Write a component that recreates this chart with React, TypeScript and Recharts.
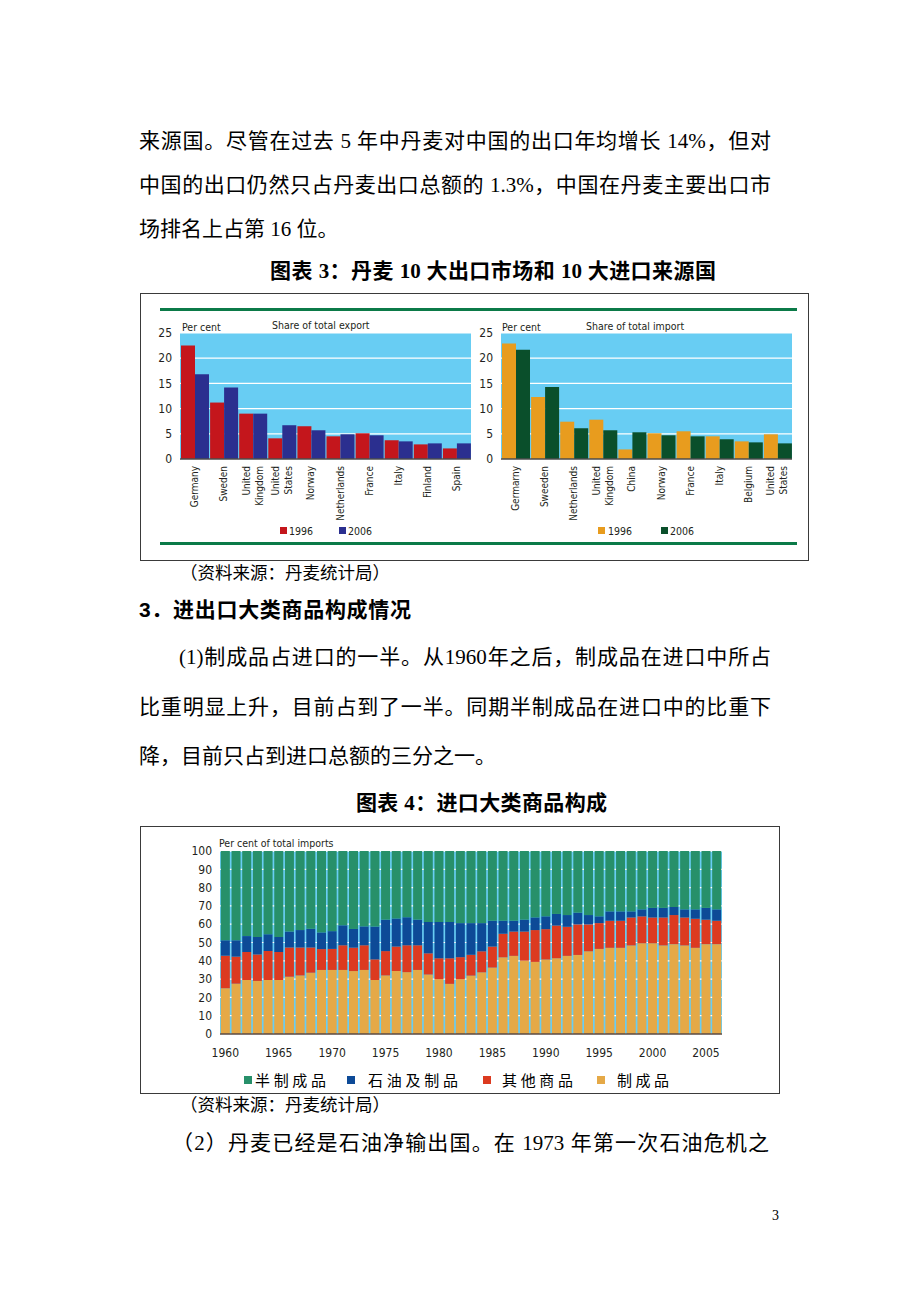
import React from 'react';
import { BarChart, Bar, XAxis, YAxis, CartesianGrid } from 'recharts';

// chart 3: top 10 export markets / import sources (per cent)
const exportCountries = ['Germany', 'Sweden', 'United\nKingdom', 'United\nStates', 'Norway', 'Netherlands', 'France', 'Italy', 'Finland', 'Spain'];
const export1996 = [22.5, 11.2, 9.0, 4.1, 6.5, 4.5, 5.1, 3.7, 2.9, 2.1];
const export2006 = [16.8, 14.2, 9.0, 6.7, 5.7, 4.9, 4.7, 3.5, 3.1, 3.1];

const importCountries = ['Germarny', 'Sweeden', 'Netherlands', 'United\nKingdom', 'China', 'Norway', 'France', 'Italy', 'Belgium', 'United\nStates'];
const import1996 = [22.9, 12.3, 7.4, 7.8, 1.9, 5.1, 5.5, 4.5, 3.5, 4.9];
const import2006 = [21.7, 14.3, 6.1, 5.7, 5.3, 4.7, 4.5, 3.9, 3.3, 3.1];

const shareTicks = [0, 5, 10, 15, 20, 25];

// chart 4: import composition, per cent of total imports
const years = [
  '1960', '1961', '1962', '1963', '1964', '1965', '1966', '1967', '1968', '1969',
  '1970', '1971', '1972', '1973', '1974', '1975', '1976', '1977', '1978', '1979',
  '1980', '1981', '1982', '1983', '1984', '1985', '1986', '1987', '1988', '1989',
  '1990', '1991', '1992', '1993', '1994', '1995', '1996', '1997', '1998', '1999',
  '2000', '2001', '2002', '2003', '2004', '2005', '2006',
];
const manufactured = [
  25, 27.5, 29.5, 29, 29.5, 29.5, 31.3, 32, 33.5, 35,
  35, 35, 34.4, 35, 29.5, 32, 34.4, 33.8, 35, 32.5,
  30, 27.4, 30, 31.9, 33.7, 36.3, 41.9, 42.7, 40.1, 39.4,
  40.7, 41.4, 42.7, 43.2, 45.2, 46.5, 47.1, 47.1, 48.4, 49.6,
  49.6, 48.4, 49.1, 48.4, 47.1, 49.1, 49.1,
];
const otherGoods = [
  17.8, 14.8, 15.3, 14.5, 15.8, 15.3, 16, 15.3, 13.8, 11.4,
  11.5, 13.5, 12.8, 13.5, 11.3, 13.3, 13.4, 14.7, 13.5, 11.6,
  11.4, 14, 12, 11.4, 11.5, 11.5, 12.9, 13.3, 15.9, 17.4,
  16.6, 17.9, 15.9, 16.7, 14.7, 14.1, 14.8, 14.8, 15.3, 14.7,
  14.1, 15.3, 15.9, 15.3, 15.9, 13.4, 12.8,
];
const oil = [
  8.4, 8.9, 8.7, 9.5, 9.2, 8.2, 8.7, 9.5, 10.2, 9.1,
  9.7, 10.9, 10.2, 10.3, 17.9, 17.2, 15.3, 15.3, 14, 17.1,
  19.8, 19.8, 18.6, 17.3, 15.4, 14.1, 7.1, 5.9, 6.5, 6.9,
  7, 6.3, 6.4, 6.4, 5.1, 3.7, 5.1, 5.1, 3.3, 3.8,
  5.2, 5.2, 4.4, 4.4, 5.1, 6.4, 6.2,
];
const semiManufactured = [
  48.8, 48.8, 46.5, 47, 45.5, 47, 44, 43.2, 42.5, 44.5,
  43.8, 40.6, 42.6, 41.2, 41.3, 37.5, 36.9, 36.2, 37.5, 38.8,
  38.8, 38.8, 39.4, 39.4, 39.4, 38.1, 38.1, 38.1, 37.5, 36.3,
  35.7, 34.4, 35, 33.7, 35, 35.7, 33, 33, 33, 31.9,
  31.1, 31.1, 30.6, 31.9, 31.9, 31.1, 31.9,
];
const pctTicks = [0, 10, 20, 30, 40, 50, 60, 70, 80, 90, 100];

const exportData = exportCountries.map((c, i) => ({ name: c, y1996: export1996[i], y2006: export2006[i] }));
const importData = importCountries.map((c, i) => ({ name: c, y1996: import1996[i], y2006: import2006[i] }));
const compData = years.map((y, i) => ({
  year: y,
  manufactured: manufactured[i],
  other: otherGoods[i],
  oil: oil[i],
  semi: semiManufactured[i],
}));

const NARROW = "'Liberation Sans Narrow', 'DejaVu Sans Condensed', 'Liberation Sans', sans-serif";
const SERIF = "'Liberation Serif', 'Noto Sans CJK SC', serif";
const SANS = "'Liberation Sans', 'Noto Sans CJK SC', sans-serif";
const INK = '#231f20';
const SKY = '#68cdf3';

const CountryTick = ({ x, y, payload }: any) => {
  const lines = String(payload.value).split('\n');
  return (
    <g transform={`translate(${x},${y})`}>
      {lines.map((ln, i) => (
        <text
          key={i}
          transform="rotate(-90)"
          x={0}
          y={(i - (lines.length - 1) / 2) * 13}
          textAnchor="end"
          dominantBaseline="central"
          fontSize={10}
          fontFamily={NARROW}
          fill={INK}
        >
          {ln}
        </text>
      ))}
    </g>
  );
};

const TextLine = ({ top, left, width, size = 21, bold = false, justify = false, family = SERIF, children }: any) => (
  <div
    style={{
      position: 'absolute',
      top: top - (size + 8) / 2,
      left,
      width,
      fontSize: size,
      lineHeight: `${size + 8}px`,
      fontWeight: bold ? 700 : 400,
      fontFamily: family,
      whiteSpace: 'nowrap',
      textAlign: justify ? 'justify' : 'left',
      textAlignLast: justify ? 'justify' : 'auto',
      color: '#000',
    }}
  >
    {children}
  </div>
);

const Note = ({ top, left, children, size = 10.5, family = NARROW }: any) => (
  <div style={{ position: 'absolute', top: top - 7, left, fontSize: size, lineHeight: '14px', fontFamily: family, color: INK, whiteSpace: 'nowrap' }}>
    {children}
  </div>
);

const Swatch = ({ top, left, color, size = 7 }: any) => (
  <div style={{ position: 'absolute', top, left, width: size, height: size, background: color }} />
);

const ShareChart = ({ data, left, width, yAxisWidth, marginLeft, marginRight, c1996, c2006 }: any) => (
  <div style={{ position: 'absolute', left, top: 295 }}>
    <BarChart width={width} height={265} data={data} margin={{ top: 38, right: marginRight, bottom: 0, left: marginLeft }} barGap={0} barCategoryGap={1}>
      <CartesianGrid fill={SKY} fillOpacity={1} stroke="#ffffff" strokeWidth={1.2} vertical={false} />
      <XAxis dataKey="name" height={101} interval={0} tickLine={false} tickSize={7} tickMargin={0} axisLine={{ stroke: '#4d4d4d', strokeWidth: 1.5 }} tick={<CountryTick />} />
      <YAxis width={yAxisWidth} domain={[0, 25]} ticks={shareTicks} interval={0} tickLine={false} axisLine={false} tickSize={6} tickMargin={2} tick={{ fontSize: 12, fontFamily: NARROW, fill: INK }} />
      <Bar dataKey="y1996" fill={c1996} isAnimationActive={false} />
      <Bar dataKey="y2006" fill={c2006} isAnimationActive={false} />
    </BarChart>
  </div>
);

export default function App() {
  return (
    <div style={{ position: 'absolute', left: 0, top: 0, width: 920, height: 1302, background: '#fff', overflow: 'hidden' }}>
      <TextLine top={141} left={139} width={632} justify>来源国。尽管在过去 5 年中丹麦对中国的出口年均增长 14%，但对</TextLine>
      <TextLine top={185} left={139} width={632} justify>中国的出口仍然只占丹麦出口总额的 1.3%，中国在丹麦主要出口市</TextLine>
      <TextLine top={229} left={139}>场排名上占第 16 位。</TextLine>
      <TextLine top={271} left={270} width={446} bold justify>图表 3：丹麦 10 大出口市场和 10 大进口来源国</TextLine>

      {/* chart 3 frame */}
      <div style={{ position: 'absolute', left: 140, top: 293, width: 667, height: 266, border: '1px solid #3a3a3a' }} />
      <div style={{ position: 'absolute', left: 160, top: 308, width: 637, height: 3, background: '#0b7a48' }} />
      <div style={{ position: 'absolute', left: 160, top: 542, width: 637, height: 3, background: '#0b7a48' }} />

      <ShareChart data={exportData} left={140} width={340} yAxisWidth={30} marginLeft={10} marginRight={9} c1996="#c4161c" c2006="#2b2f8f" />
      <ShareChart data={importData} left={475} width={330} yAxisWidth={26} marginLeft={0} marginRight={13} c1996="#e89c1e" c2006="#0a4f2b" />

      <Note top={327} left={182}>Per cent</Note>
      <Note top={325} left={272}>Share of total export</Note>
      <Note top={327} left={502}>Per cent</Note>
      <Note top={326} left={586}>Share of total import</Note>

      <Swatch top={527} left={280} color="#c4161c" />
      <Note top={531} left={289}>1996</Note>
      <Swatch top={527} left={339} color="#2b2f8f" />
      <Note top={531} left={348}>2006</Note>
      <Swatch top={527} left={598} color="#e89c1e" />
      <Note top={531} left={608}>1996</Note>
      <Swatch top={527} left={661} color="#0a4f2b" />
      <Note top={531} left={670}>2006</Note>

      <TextLine top={574} left={180} size={17.5}>（资料来源：丹麦统计局）</TextLine>
      <TextLine top={609} left={139} width={272} bold justify family={SANS}>3．进出口大类商品构成情况</TextLine>
      <TextLine top={657} left={179} width={592} justify>(1)制成品占进口的一半。从1960年之后，制成品在进口中所占</TextLine>
      <TextLine top={707} left={139} width={632} justify>比重明显上升，目前占到了一半。同期半制成品在进口中的比重下</TextLine>
      <TextLine top={756} left={139}>降，目前只占到进口总额的三分之一。</TextLine>
      <TextLine top={803} left={356} width={251} bold justify>图表 4：进口大类商品构成</TextLine>

      {/* chart 4 frame */}
      <div style={{ position: 'absolute', left: 140, top: 826, width: 638, height: 266, border: '1px solid #3a3a3a' }} />
      <div style={{ position: 'absolute', left: 140, top: 826 }}>
        <BarChart width={639} height={268} data={compData} margin={{ top: 25, right: 57, bottom: 30, left: 50 }} barCategoryGap="8%">
          <CartesianGrid fill={SKY} fillOpacity={1} stroke="#ffffff" strokeWidth={1.2} vertical={false} />
          <XAxis dataKey="year" height={30} interval={4} tickLine={false} tickSize={4} tickMargin={10} axisLine={{ stroke: '#5a4a42', strokeWidth: 1.5 }} tick={{ fontSize: 12, fontFamily: NARROW, fill: INK }} />
          <YAxis width={30} domain={[0, 100]} ticks={pctTicks} interval={0} tickLine={false} axisLine={false} tickSize={6} tickMargin={2} tick={{ fontSize: 12, fontFamily: NARROW, fill: INK }} />
          <Bar dataKey="manufactured" stackId="a" fill="#e5a947" isAnimationActive={false} />
          <Bar dataKey="other" stackId="a" fill="#dc3a20" isAnimationActive={false} />
          <Bar dataKey="oil" stackId="a" fill="#0d4a97" isAnimationActive={false} />
          <Bar dataKey="semi" stackId="a" fill="#27906a" isAnimationActive={false} />
        </BarChart>
      </div>
      <Note top={843} left={219}>Per cent of total imports</Note>

      <Swatch top={1076} left={244} color="#27906a" size={8} />
      <TextLine top={1080} left={255} size={15} family={SANS} width={71} justify>半制成品</TextLine>
      <Swatch top={1076} left={347} color="#0d4a97" size={8} />
      <TextLine top={1080} left={368} size={15} family={SANS} width={90} justify>石油及制品</TextLine>
      <Swatch top={1076} left={483} color="#dc3a20" size={8} />
      <TextLine top={1080} left={502} size={15} family={SANS} width={71} justify>其他商品</TextLine>
      <Swatch top={1076} left={597} color="#e5a947" size={8} />
      <TextLine top={1080} left={617} size={15} family={SANS} width={52} justify>制成品</TextLine>

      <TextLine top={1106} left={180} size={17.5}>（资料来源：丹麦统计局）</TextLine>
      <TextLine top={1143} left={172} width={597} justify>（2）丹麦已经是石油净输出国。在 1973 年第一次石油危机之</TextLine>
      <TextLine top={1216} left={772} size={14}>3</TextLine>
    </div>
  );
}
